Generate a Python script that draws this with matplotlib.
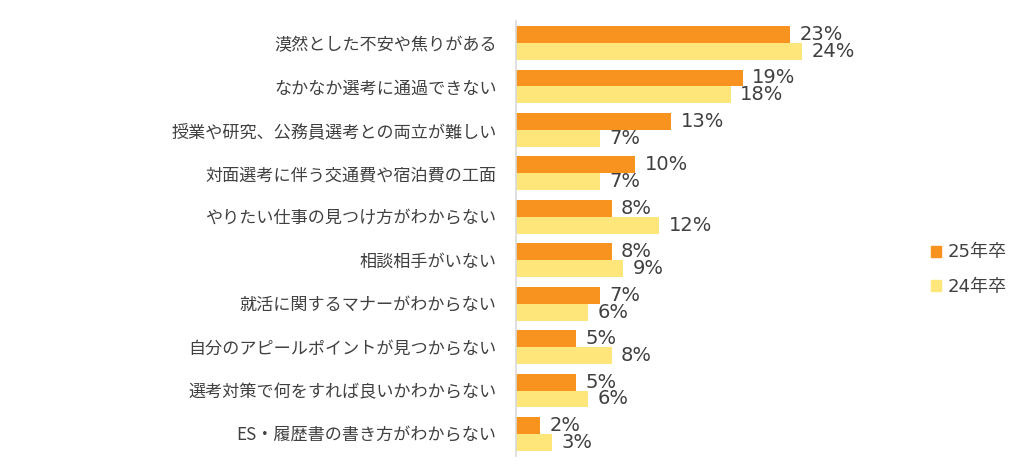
import matplotlib.pyplot as plt
import numpy as np
from matplotlib.patches import Patch

plt.rcParams['font.family'] = ['Noto Sans CJK JP', 'DejaVu Sans']

categories = [
    "漠然とした不安や焦りがある",
    "なかなか選考に通過できない",
    "授業や研究、公務員選考との両立が難しい",
    "対面選考に伴う交通費や宿泊費の工面",
    "やりたい仕事の見つけ方がわからない",
    "相談相手がいない",
    "就活に関するマナーがわからない",
    "自分のアピールポイントが見つからない",
    "選考対策で何をすれば良いかわからない",
    "ES・履歴書の書き方がわからない",
]
values_25 = [23, 19, 13, 10, 8, 8, 7, 5, 5, 2]
values_24 = [24, 18, 7, 7, 12, 9, 6, 8, 6, 3]
series_names = ["25年卒", "24年卒"]

c25 = "#F7931E"
c24 = "#FFE67A"
text_color = "#404040"
num_font = ['DejaVu Sans', 'Noto Sans CJK JP']

fig = plt.figure(figsize=(10.24, 4.73), dpi=100)
ax = fig.add_axes([0.504, 0.0366, 0.396, 0.9184])

y = np.arange(len(categories))
h = 0.39
ax.barh(y - h / 2, values_25, height=h, color=c25)
ax.barh(y + h / 2, values_24, height=h, color=c24)

for yi, v in zip(y, values_25):
    ax.text(v + 0.8, yi - h / 2, f"{v}%", va="center", ha="left",
            fontsize=14, color=text_color, family=num_font)
for yi, v in zip(y, values_24):
    ax.text(v + 0.8, yi + h / 2, f"{v}%", va="center", ha="left",
            fontsize=14, color=text_color, family=num_font)

ax.set_xlim(0, 34)
ax.set_ylim(len(categories) - 0.5, -0.5)
ax.set_yticks(y)
ax.set_yticklabels(categories, fontsize=12.3, color=text_color)
ax.tick_params(axis="y", length=0, pad=14)
ax.set_xticks([])
for s in ["top", "right", "bottom"]:
    ax.spines[s].set_visible(False)
ax.spines["left"].set_color("#D9D9D9")
ax.spines["left"].set_linewidth(1.2)

handles = [Patch(color=c25), Patch(color=c24)]
fig.legend(handles, series_names, loc="center left",
           bbox_to_anchor=(0.893, 0.43), frameon=False,
           prop={'family': num_font, 'size': 13},
           labelcolor=text_color, handlelength=0.55, handleheight=0.55,
           handletextpad=0.4, labelspacing=0.9)

fig.savefig("out.png", dpi=100)
